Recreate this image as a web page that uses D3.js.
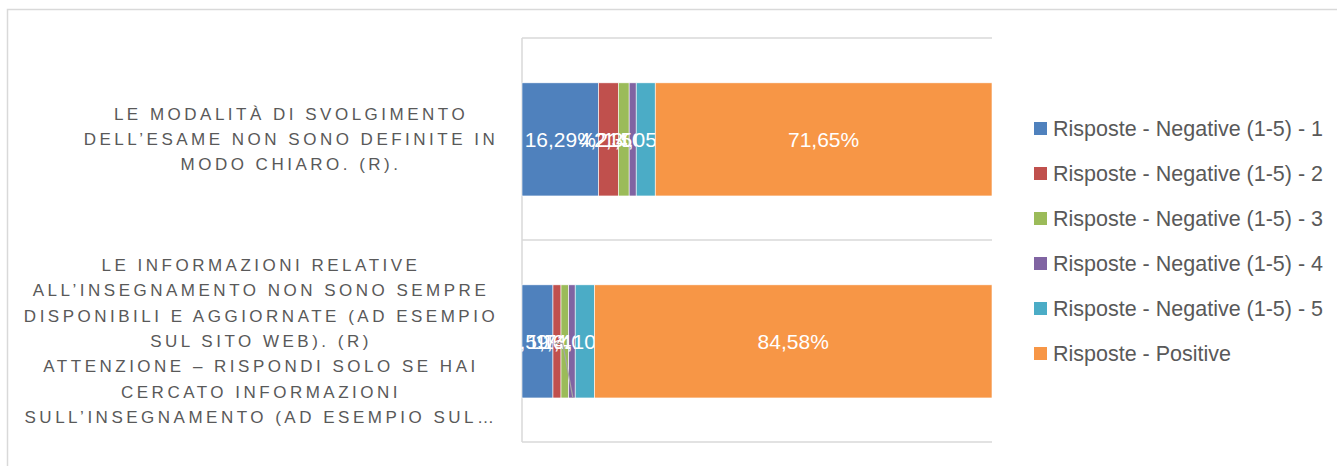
<!DOCTYPE html>
<html>
<head>
<meta charset="utf-8">
<script src="https://cdn.jsdelivr.net/npm/d3@7"></script>
<style>
  body { margin: 0; background: #fff; }
  svg { display: block; font-family: "Liberation Sans", Arial, sans-serif; }
</style>
</head>
<body>
<div id="chart"></div>
<script>
// categories (top to bottom), each label split into its lines
const categories = ["q1", "q2"];
const categoryLines = [
    ["LE MODALITÀ DI SVOLGIMENTO", "DELL’ESAME NON SONO DEFINITE IN", "MODO CHIARO. (R)."],
    ["LE INFORMAZIONI RELATIVE", "ALL’INSEGNAMENTO NON SONO SEMPRE", "DISPONIBILI E AGGIORNATE (AD ESEMPIO",
     "SUL SITO WEB). (R)", "ATTENZIONE – RISPONDI SOLO SE HAI", "CERCATO INFORMAZIONI", "SULL’INSEGNAMENTO (AD ESEMPIO SUL…"]
];

// series names and their percentages per category
const seriesNames = [
    "Risposte - Negative (1-5) - 1",
    "Risposte - Negative (1-5) - 2",
    "Risposte - Negative (1-5) - 3",
    "Risposte - Negative (1-5) - 4",
    "Risposte - Negative (1-5) - 5",
    "Risposte - Positive"
];
const neg1 = [16.29, 6.59];
const neg2 = [4.21, 1.71];
const neg3 = [2.30, 1.62];
const neg4 = [1.50, 1.40];
const neg5 = [4.05, 4.10];
const positive = [71.65, 84.58];

const colors = ["#4F81BD", "#C0504D", "#9BBB59", "#8064A2", "#4BACC6", "#F79646"];

const width = 1337, height = 466;
const plot = {left: 522, right: 992, top: 38, bottom: 442};

const svg = d3.select("#chart")
    .append("svg")
    .attr("width", width)
    .attr("height", height);

// outer chart border (only top and left visible)
svg.append("path")
    .attr("d", "M7.5," + height + "V9.5H" + width)
    .attr("fill", "none")
    .attr("stroke", "#d9d9d9")
    .attr("stroke-width", 1.5);

// scales
const x = d3.scaleLinear()
    .domain([0, 100])
    .range([plot.left, plot.right]);

const y = d3.scaleBand()
    .domain(categories)
    .range([plot.top, plot.bottom]);

// build table for stacking
const table = categories.map(function(c, i) {
    return {cat: c, s0: neg1[i], s1: neg2[i], s2: neg3[i], s3: neg4[i], s4: neg5[i], s5: positive[i]};
});
const keys = ["s0", "s1", "s2", "s3", "s4", "s5"];
const stacked = d3.stack().keys(keys)(table);

// category gridlines
const gridYs = y.domain().map(function(c) { return y(c); }).concat([plot.bottom]);
svg.append("g")
    .selectAll("line")
    .data(gridYs)
    .enter()
    .append("line")
    .attr("x1", plot.left)
    .attr("x2", plot.right)
    .attr("y1", function(d) { return d; })
    .attr("y2", function(d) { return d; })
    .attr("stroke", "#d9d9d9")
    .attr("stroke-width", 1.5);

// vertical axis line
svg.append("line")
    .attr("x1", plot.left)
    .attr("x2", plot.left)
    .attr("y1", plot.top)
    .attr("y2", plot.bottom)
    .attr("stroke", "#d9d9d9")
    .attr("stroke-width", 1.5);

const barOffset = y.step() * 0.222;
const barHeight = y.step() * 0.56;

// bars
const layers = svg.append("g")
    .selectAll("g")
    .data(stacked)
    .enter()
    .append("g")
    .attr("fill", function(d, i) { return colors[i]; });

layers.selectAll("rect")
    .data(function(d) { return d; })
    .enter()
    .append("rect")
    .attr("x", function(d) { return x(d[0]); })
    .attr("y", function(d) { return y(d.data.cat) + barOffset; })
    .attr("width", function(d) { return x(d[1]) - x(d[0]); })
    .attr("height", barHeight)
    .attr("stroke", "#fff")
    .attr("stroke-width", 0.6);

// leader line for the small label on the second bar (segment 4)
const lead = stacked[3][1];
const leadX = (x(lead[0]) + x(lead[1])) / 2;
const leadY = y(lead.data.cat) + barOffset + barHeight / 2 + 2;
svg.append("path")
    .attr("d", "M" + (x(lead[0]) - 14) + "," + leadY + "H" + (x(lead[0]) - 6) +
        "L" + (leadX + 1) + "," + (y(lead.data.cat) + barOffset + barHeight))
    .attr("fill", "none")
    .attr("stroke", "#a6a6a6")
    .attr("stroke-width", 1.2);

// data labels
const fmt = function(v) { return v.toFixed(2).replace(".", ",") + "%"; };
layers.selectAll("text")
    .data(function(d) { return d; })
    .enter()
    .append("text")
    .attr("x", function(d) { return (x(d[0]) + x(d[1])) / 2; })
    .attr("y", function(d) { return y(d.data.cat) + barOffset + barHeight / 2; })
    .attr("dy", "0.35em")
    .attr("text-anchor", "middle")
    .attr("fill", "#fff")
    .style("font-size", "21px")
    .text(function(d) { return fmt(d[1] - d[0]); });

// category labels
const catCenterX = [291, 261];
const lineGap = 25.3;
categories.forEach(function(c, i) {
    const lines = categoryLines[i];
    const cy = y(c) + y.step() / 2;
    const t = svg.append("text")
        .attr("text-anchor", "middle")
        .attr("fill", "#595959")
        .style("font-size", "17px")
        .style("letter-spacing", "3.5px");
    lines.forEach(function(l, j) {
        t.append("tspan")
            .attr("x", catCenterX[i])
            .attr("y", cy + (j - (lines.length - 1) / 2) * lineGap)
            .attr("dy", "0.35em")
            .text(l);
    });
});

// legend
const legend = svg.append("g")
    .selectAll("g")
    .data(seriesNames)
    .enter()
    .append("g")
    .attr("transform", function(d, i) { return "translate(1034," + (128 + i * 45) + ")"; });

legend.append("rect")
    .attr("x", 0)
    .attr("y", -6)
    .attr("width", 13)
    .attr("height", 13)
    .attr("fill", function(d, i) { return colors[i]; });

legend.append("text")
    .attr("x", 19)
    .attr("y", 0)
    .attr("dy", "0.35em")
    .attr("fill", "#595959")
    .style("font-size", "21.5px")
    .text(function(d) { return d; });
</script>
</body>
</html>
